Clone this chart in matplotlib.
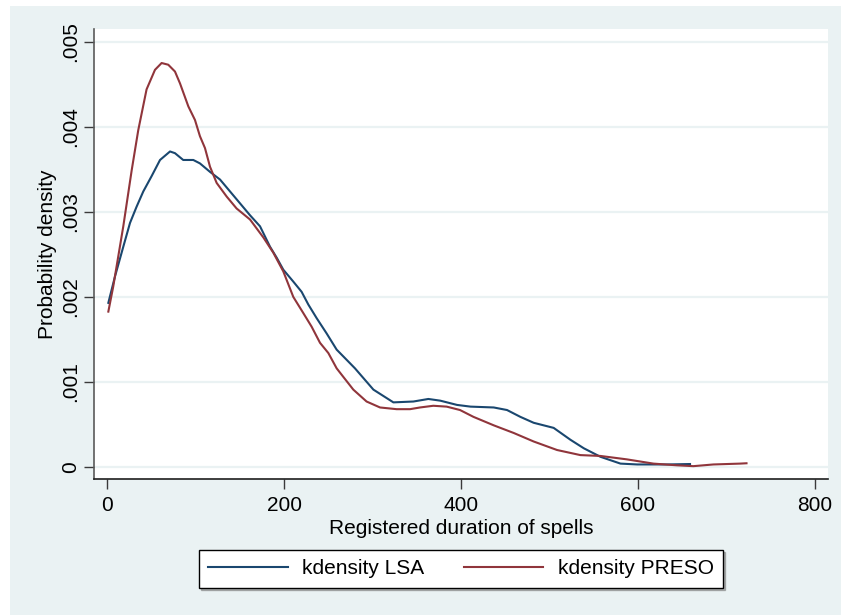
import matplotlib as mpl
import matplotlib.pyplot as plt
import matplotlib.ticker as ticker
from matplotlib.patches import Rectangle

# kernel density estimates, read off at sample durations
lsa_x = [1.5, 9, 18.4, 26, 33.4, 41, 50.4, 59.9, 71.2, 76.8, 86.1, 97.5, 105,
         116.4, 127.7, 139, 150.3, 161.6, 172.9, 184.2, 191.8, 199.2, 210.5,
         219.9, 227.5, 236.9, 248.2, 259.5, 270.8, 280.2, 301, 323.6, 346.2,
         363.1, 376.6, 395.5, 410.7, 437, 452, 467, 482.1, 504.7, 523.7,
         538.8, 557.6, 580.2, 599.1, 633, 658.8]
lsa_y = [0.00193, 0.00224, 0.00259, 0.00287, 0.00306, 0.00324, 0.00342,
         0.00361, 0.00371, 0.00369, 0.00361, 0.00361, 0.00357, 0.00347,
         0.00338, 0.00324, 0.0031, 0.00296, 0.00283, 0.00259, 0.00246,
         0.00232, 0.00218, 0.00206, 0.00191, 0.00175, 0.00157, 0.00138,
         0.00126, 0.00116, 0.00091, 0.00076, 0.00077, 0.0008, 0.00078,
         0.00073, 0.00071, 0.0007, 0.00067, 0.00059, 0.00052, 0.00046,
         0.00032, 0.00022, 0.00012, 0.00004, 0.00003, 0.00003, 0.000035]

preso_x = [1.5, 7, 18.4, 27.9, 35.3, 44.7, 54.2, 61.7, 69.2, 76.8, 82.5, 91.9,
           99.4, 105, 110.7, 116.4, 123.9, 135.2, 146.4, 161.6, 176.6, 187.9,
           199.2, 210.5, 221.8, 231.2, 240.7, 250.1, 259.5, 267, 278.3, 293.3,
           308.5, 327.3, 342.4, 353.7, 368.7, 383.8, 398.9, 414, 437, 459.6,
           482.1, 508.5, 534.9, 557.6, 587.3, 617.4, 643.8, 662.6, 685.2,
           715.3, 722.6]
preso_y = [0.001827, 0.00212, 0.00283, 0.00349, 0.00396, 0.00444, 0.00467,
           0.00475, 0.00473, 0.00465, 0.00451, 0.00424, 0.00408, 0.00389,
           0.00375, 0.00353, 0.00334, 0.00318, 0.00304, 0.00291, 0.0027,
           0.00252, 0.0023, 0.002, 0.00181, 0.00165, 0.00146, 0.00134,
           0.00116, 0.00106, 0.00091, 0.00077, 0.0007, 0.00068, 0.00068,
           0.0007, 0.00072, 0.00071, 0.00067, 0.00059, 0.00049, 0.0004,
           0.0003, 0.0002, 0.00014, 0.00013, 0.00009, 0.00004, 0.00002,
           0.00001, 0.00003, 0.00004, 0.000044]

x_ticks = [0, 200, 400, 600, 800]
y_ticks = [0, 0.001, 0.002, 0.003, 0.004, 0.005]

navy = '#1a476f'
maroon = '#90353b'
region = '#eaf2f3'
axis_col = '#3a3a3a'

mpl.rcParams['font.family'] = ['Liberation Sans', 'DejaVu Sans']
mpl.rcParams['font.size'] = 15

fig = plt.figure(figsize=(8.41, 6.15), dpi=100, facecolor='white')
fig.patches.append(Rectangle((10 / 841, 0), 1, 1 - 6 / 615,
                             transform=fig.transFigure, facecolor=region,
                             edgecolor='none', zorder=-10))

ax = fig.add_axes([94 / 841, 136 / 615, 734 / 841, 450 / 615])
ax.set_facecolor('white')

for v in y_ticks:
    ax.axhline(v, color=region, lw=1.6, zorder=1)

ax.plot(lsa_x, lsa_y, color=navy, lw=1.5, label='kdensity LSA', zorder=3)
ax.plot(preso_x, preso_y, color=maroon, lw=1.5, label='kdensity PRESO', zorder=3)

ax.set_xlim(-14.7, 814.7)
ax.set_ylim(-0.000141, 0.00515)
ax.set_xticks(x_ticks)
ax.set_yticks(y_ticks)


def dens_fmt(v, pos):
    if abs(v) < 1e-12:
        return '0'
    return ('%.3f' % v).lstrip('0')


ax.yaxis.set_major_formatter(ticker.FuncFormatter(dens_fmt))
ax.tick_params(axis='y', length=7, width=1, color=axis_col, pad=3,
               labelrotation=90)
ax.tick_params(axis='x', length=7, width=1, color=axis_col, pad=5)
plt.setp(ax.get_yticklabels(), va='center')

for side in ['top', 'right']:
    ax.spines[side].set_visible(False)
ax.spines['left'].set_color('#5a5a5a')
ax.spines['bottom'].set_color('#1e1e1e')
ax.spines['left'].set_linewidth(1.2)
ax.spines['bottom'].set_linewidth(1.2)

ax.set_xlabel('Registered duration of spells', labelpad=3)
ax.set_ylabel('Probability density', labelpad=3)

leg = ax.legend(loc='center', bbox_to_anchor=(461 / 841, 46 / 615),
                bbox_transform=fig.transFigure, ncol=2, frameon=True,
                fancybox=False, edgecolor='black', framealpha=1,
                handlelength=3.8, handletextpad=0.7, columnspacing=1.9,
                borderpad=0.45, shadow={'ox': 1.5, 'oy': -1.5, 'color': '0.45'})
leg.get_frame().set_linewidth(1.0)

fig.savefig('out.png', dpi=100, facecolor=fig.get_facecolor())
